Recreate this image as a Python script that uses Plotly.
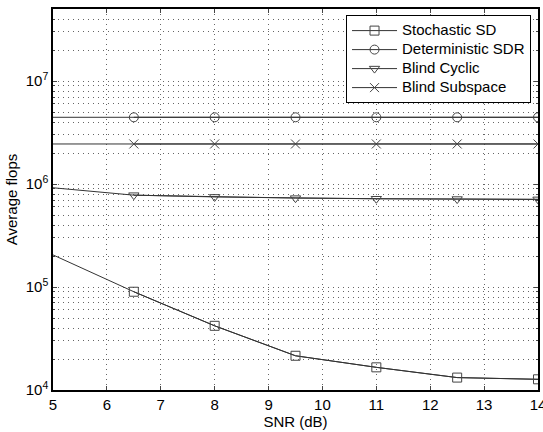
import plotly.graph_objects as go

snr = [5, 6.5, 8, 9.5, 11, 12.5, 14]
stochastic_sd = [2.05e5, 9.0e4, 4.2e4, 2.15e4, 1.66e4, 1.32e4, 1.27e4]
deterministic_sdr = [4.45e6, 4.45e6, 4.45e6, 4.45e6, 4.45e6, 4.45e6, 4.45e6]
blind_cyclic = [9.2e5, 7.8e5, 7.5e5, 7.3e5, 7.2e5, 7.15e5, 7.1e5]
blind_subspace = [2.45e6, 2.45e6, 2.45e6, 2.45e6, 2.45e6, 2.45e6, 2.45e6]

series = [
    ("Stochastic SD", stochastic_sd, "square-open"),
    ("Deterministic SDR", deterministic_sdr, "circle-open"),
    ("Blind Cyclic", blind_cyclic, "triangle-down-open"),
    ("Blind Subspace", blind_subspace, "x-thin-open"),
]

x_ticks = [5, 6, 7, 8, 9, 10, 11, 12, 13, 14]
y_ticks = [1e4, 1e5, 1e6, 1e7]
y_ticktext = ["10<sup>4</sup>", "10<sup>5</sup>", "10<sup>6</sup>", "10<sup>7</sup>"]

line_color = "#333333"
grid_color = "#666666"
grid_dash = "1px,4px"
fam = "Liberation Sans, Arial, sans-serif"

fig = go.Figure()
for name, vals, sym in series:
    fig.add_trace(go.Scatter(x=snr, y=vals, mode="lines", showlegend=False,
                             line=dict(color=line_color, width=1), hoverinfo="skip"))
    fig.add_trace(go.Scatter(x=snr[1:], y=vals[1:], mode="lines+markers",
                             name='<span style="font-size:15px">' + name + '</span>',
                             line=dict(color=line_color, width=1),
                             marker=dict(symbol=sym, size=9, color="#444444",
                                         line=dict(color="#444444", width=1))))

fig.update_layout(
    width=543, height=432,
    margin=dict(l=53, r=5, t=9, b=42),
    paper_bgcolor="white", plot_bgcolor="white",
    font=dict(family=fam, size=14, color="black"),
    showlegend=True,
    legend=dict(x=0.9856, y=0.984, xanchor="right", yanchor="top",
                bgcolor="white", bordercolor="black", borderwidth=1,
                font=dict(family=fam, size=11, color="black"),
                tracegroupgap=0, itemwidth=45),
    xaxis=dict(range=[5, 14], tickvals=x_ticks, ticks="inside", ticklen=4,
               showline=True, linecolor="black", linewidth=1.5, mirror="ticks",
               showgrid=True, gridcolor=grid_color, griddash=grid_dash, gridwidth=1,
               zeroline=False, ticklabeloverflow="allow", automargin=False,
               title=dict(text="SNR (dB)", standoff=2, font=dict(size=15)),
               tickfont=dict(size=15)),
    yaxis=dict(type="log", range=[4, 7.7], tickvals=y_ticks, ticktext=y_ticktext,
               ticks="inside", ticklen=4, automargin=False,
               showline=True, linecolor="black", linewidth=1.5, mirror="ticks",
               showgrid=True, gridcolor=grid_color, griddash=grid_dash, gridwidth=1,
               zeroline=False,
               minor=dict(dtick="D1", ticks="inside", ticklen=2, showgrid=True,
                          gridcolor=grid_color, griddash=grid_dash, gridwidth=1),
               title=dict(text="Average flops", standoff=4, font=dict(size=15)),
               tickfont=dict(size=15)),
)

fig.write_html("out.html")
